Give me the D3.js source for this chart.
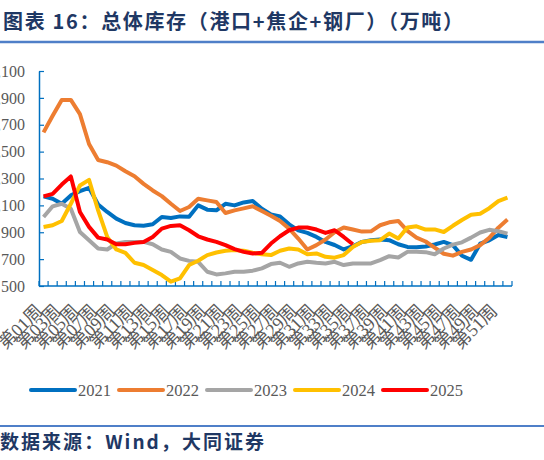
<!DOCTYPE html>
<html>
<head>
<meta charset="utf-8">
<script src="https://cdn.jsdelivr.net/npm/d3@7"></script>
<style>
  body { margin: 0; background: #fff; }
  svg { display: block; }
</style>
</head>
<body>
<svg id="chart" width="544" height="460"></svg>
<script>
// weekly total inventory, 10k tonnes
var weeks = d3.range(1, 53).map(function(d) { return "第" + (d < 10 ? "0" + d : d) + "周"; });
var years = ["2021", "2022", "2023", "2024", "2025"];
var yTicks = [500, 700, 900, 1100, 1300, 1500, 1700, 1900, 2100];

var s2021 = [1167, 1149, 1112, 1174, 1206, 1231, 1107, 1051, 1001, 969, 952, 949, 959, 1014, 1006, 1018, 1015, 1100, 1068, 1063,
             1112, 1100, 1122, 1132, 1075, 1033, 1018, 959, 914, 895, 865, 828, 805, 772, 796, 828, 841, 846, 841, 811,
             791, 789, 794, 809, 828, 804, 725, 695, 815, 840, 880, 865];
var s2022 = [1643, 1767, 1885, 1885, 1779, 1557, 1438, 1421, 1396, 1354, 1317, 1260, 1211, 1169, 1112, 1058, 1088, 1149, 1137, 1125,
             1043, 1063, 1078, 1093, 1058, 1023, 984, 927, 853, 772, 804, 846, 900, 935, 920, 905, 907, 952, 974, 984,
             910, 860, 831, 785, 740, 726, 754, 772, 804, 858, 934, 994];
var s2023 = [1014, 1093, 1112, 1075, 902, 841, 779, 772, 816, 828, 828, 828, 811, 772, 754, 705, 687, 680, 606, 586,
             594, 606, 606, 614, 631, 663, 673, 643, 668, 680, 673, 668, 680, 656, 668, 668, 668, 693, 722, 712,
             754, 754, 752, 736, 779, 808, 825, 860, 898, 918, 908, 890];
var s2024 = [939, 952, 984, 1112, 1248, 1290, 1063, 865, 772, 747, 673, 656, 619, 581, 532, 557, 656, 688, 730, 749,
             762, 767, 762, 747, 737, 730, 762, 779, 772, 737, 742, 717, 711, 730, 791, 828, 836, 841, 890, 853,
             935, 944, 920, 921, 902, 948, 991, 1030, 1038, 1079, 1131, 1157];
var s2025 = [1167, 1186, 1255, 1315, 1051, 940, 860, 846, 811, 811, 821, 828, 865, 927, 947, 952, 915, 870, 846, 828,
             804, 774, 754, 742, 747, 816, 870, 915, 935, 935, 920, 895, 915, 865, 811];

var series = [s2021, s2022, s2023, s2024, s2025];
var colors = ["#0070c0", "#ed7d31", "#a5a5a5", "#ffc000", "#ff0000"];

var svg = d3.select("#chart");
var axisColor = "#0070c0";
var labelColor = "#595959";
var serif = "'Liberation Serif', 'DejaVu Serif', serif";
var cjk = "'Noto Sans CJK SC', sans-serif";

// title and rules
svg.append("text")
   .attr("x", 3)
   .attr("y", 29)
   .attr("fill", "#1f3864")
   .attr("font-family", cjk)
   .attr("font-weight", "bold")
   .attr("font-size", 20)
   .attr("textLength", 460)
   .attr("lengthAdjust", "spacing")
   .text("图表 16：总体库存（港口+焦企+钢厂）（万吨）");

svg.append("line")
   .attr("x1", 0).attr("x2", 544)
   .attr("y1", 42).attr("y2", 42)
   .attr("stroke", "#4f7fc8")
   .attr("stroke-width", 2.5);

svg.append("line")
   .attr("x1", 0).attr("x2", 544)
   .attr("y1", 426).attr("y2", 426)
   .attr("stroke", "#4f7fc8")
   .attr("stroke-width", 2);

svg.append("text")
   .attr("x", 0)
   .attr("y", 449)
   .attr("fill", "#1f3864")
   .attr("font-family", cjk)
   .attr("font-weight", "bold")
   .attr("font-size", 19)
   .attr("textLength", 264)
   .attr("lengthAdjust", "spacing")
   .text("数据来源：Wind，大同证券");

// scales
var x = d3.scaleBand()
   .domain(weeks)
   .range([39, 512]);

var y = d3.scaleLinear()
   .domain([500, 2100])
   .range([286, 71]);

// y axis
var yAxis = svg.append("g")
   .attr("transform", "translate(39,0)")
   .call(d3.axisLeft(y)
      .tickValues(yTicks)
      .tickSizeInner(-5)
      .tickSizeOuter(0)
      .tickPadding(14));

yAxis.select(".domain").attr("stroke", axisColor).attr("stroke-width", 1.5);
yAxis.selectAll(".tick line").attr("stroke", axisColor).attr("stroke-width", 1.2);
yAxis.selectAll(".tick text")
   .attr("fill", labelColor)
   .attr("font-family", serif)
   .attr("font-size", 16);

// x axis, ticks between the weeks
var xAxis = svg.append("g")
   .attr("transform", "translate(0,286)");

xAxis.append("line")
   .attr("x1", 39).attr("x2", 512)
   .attr("stroke", axisColor)
   .attr("stroke-width", 1.5);

xAxis.selectAll(".xtick")
   .data(weeks.concat(["end"]))
   .enter().append("line")
   .attr("class", "xtick")
   .attr("x1", function(d, i) { return x.range()[0] + i * x.step(); })
   .attr("x2", function(d, i) { return x.range()[0] + i * x.step(); })
   .attr("y1", 0)
   .attr("y2", -5)
   .attr("stroke", axisColor)
   .attr("stroke-width", 1.2);

xAxis.selectAll(".xlabel")
   .data(weeks.filter(function(d, i) { return i % 2 == 0; }))
   .enter().append("text")
   .attr("class", "xlabel")
   .attr("transform", function(d) {
      return "translate(" + (x(d) + x.bandwidth() / 2) + ",26) rotate(-45)";
   })
   .attr("text-anchor", "end")
   .attr("fill", labelColor)
   .attr("font-family", serif + ", 'Noto Sans CJK SC'")
   .attr("font-size", 18)
   .text(function(d) { return d; });

// lines
var line = d3.line()
   .x(function(d, i) { return x(weeks[i]) + x.bandwidth() / 2; })
   .y(function(d) { return y(d); });

svg.append("g")
   .selectAll("path")
   .data(series)
   .enter().append("path")
   .attr("d", line)
   .attr("fill", "none")
   .attr("stroke", function(d, i) { return colors[i]; })
   .attr("stroke-width", 4)
   .attr("stroke-linejoin", "round");

// legend
var legend = svg.append("g")
   .attr("transform", "translate(31,390)");

var item = legend.selectAll("g")
   .data(years)
   .enter().append("g")
   .attr("transform", function(d, i) { return "translate(" + (i * 88) + ",0)"; });

item.append("line")
   .attr("x1", 0).attr("x2", 44)
   .attr("stroke", function(d, i) { return colors[i]; })
   .attr("stroke-width", 4)
   .attr("stroke-linecap", "round");

item.append("text")
   .attr("x", 47)
   .attr("dy", "0.35em")
   .attr("fill", labelColor)
   .attr("font-family", serif)
   .attr("font-size", 16.5)
   .text(function(d) { return d; });
</script>
</body>
</html>
